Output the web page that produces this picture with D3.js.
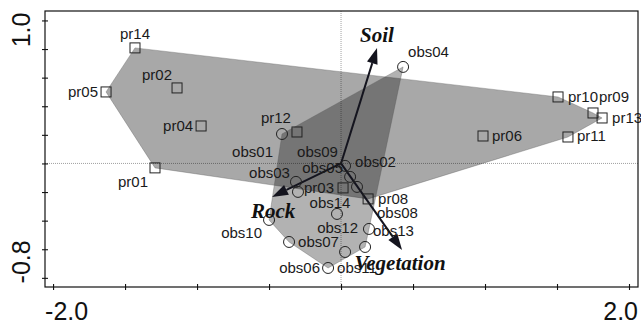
<!DOCTYPE html>
<html>
<head>
<meta charset="utf-8">
<script src="https://cdn.jsdelivr.net/npm/d3@7"></script>
<style>
  body { margin: 0; background: #fff; }
  svg { display: block; }
</style>
</head>
<body>
<svg id="chart" width="641" height="322"></svg>
<script>
// ordination scores
var prNames = ["pr01", "pr02", "pr03", "pr04", "pr05", "pr06", "pr08", "pr09", "pr10", "pr11", "pr12", "pr13", "pr14"];
var prX = [-1.292, -1.139, 0.014, -0.972, -1.632, 0.986, 0.188, 1.750, 1.507, 1.576, -0.306, 1.813, -1.431];
var prY = [-0.031, 0.528, -0.171, 0.262, 0.500, 0.192, -0.248, 0.353, 0.465, 0.185, 0.220, 0.318, 0.808];

var obsNames = ["obs01", "obs02", "obs03", "obs04", "obs05", "obs06", "obs07", "obs08", "obs09", "obs10", "obs11", "obs12", "obs13", "obs14"];
var obsX = [-0.410, 0.063, -0.313, 0.431, 0.028, -0.090, -0.361, 0.111, -0.299, -0.500, 0.028, 0.167, 0.194, -0.028];
var obsY = [0.206, -0.094, -0.129, 0.675, -0.017, -0.731, -0.549, -0.164, -0.199, -0.395, -0.619, -0.584, -0.458, -0.353];

// environmental vectors (biplot arrows)
var envNames = ["Soil", "Rock", "Vegetation"];
var envX = [0.250, -0.479, 0.424];
var envY = [0.808, -0.234, -0.605];

var xTicks = [-2, -1.5, -1, -0.5, 0, 0.5, 1, 1.5, 2];
var yTicks = [-0.8, -0.6, -0.4, -0.2, 0, 0.2, 0.4, 0.6, 0.8, 1.0];
var xTickLabels = ["-2.0", "2.0"];
var yTickLabels = ["-0.8", "1.0"];

// where each site label sits relative to its symbol: [anchor, dx, dy]
var labelPlace = {
    pr01: ["end", -7, 19], pr02: ["end", -5, -8], pr03: ["end", -9, 5], pr04: ["end", -8, 5],
    pr05: ["end", -8, 5], pr06: ["start", 9, 5], pr08: ["start", 10, 5], pr09: ["start", 6, -11],
    pr10: ["start", 10, 5], pr11: ["start", 9, 4], pr12: ["end", -6, -9], pr13: ["start", 10, 5],
    pr14: ["middle", 0, -9],
    obs01: ["end", -9, 23], obs02: ["start", 5, -10], obs03: ["end", -6, -4], obs04: ["start", 5, -10],
    obs05: ["end", -2, 7], obs06: ["end", -8, 5], obs07: ["start", 9, 5], obs08: ["start", 20, 31],
    obs09: ["end", 40, -35], obs10: ["end", -7, 18], obs11: ["start", -8, 21], obs12: ["end", -7, -14],
    obs13: ["start", 4, 7], obs14: ["middle", -7, -6]
};
var envPlace = {Soil: [0, -6], Rock: [1, 21], Vegetation: [-2, 20]};

var svg = d3.select("#chart"),
    pLeft = 45, pRight = 638, pTop = 11, pBottom = 287;

var x = d3.scaleLinear().domain([-2.056, 2.0625]).range([pLeft, pRight]),
    y = d3.scaleLinear().domain([-0.864, 1.066]).range([pBottom, pTop]);

var prPts = prNames.map(function(n, i) { return {name: n, px: x(prX[i]), py: y(prY[i])}; });
var obsPts = obsNames.map(function(n, i) { return {name: n, px: x(obsX[i]), py: y(obsY[i])}; });

svg.append("defs").append("clipPath")
    .attr("id", "clip")
    .append("rect")
    .attr("x", pLeft).attr("y", pTop)
    .attr("width", pRight - pLeft).attr("height", pBottom - pTop);

var plot = svg.append("g").attr("clip-path", "url(#clip)");

// zero lines
plot.append("line")
    .attr("x1", x(0)).attr("x2", x(0)).attr("y1", pTop).attr("y2", pBottom)
    .attr("stroke", "#8a8a8a").attr("stroke-width", 0.8).attr("stroke-dasharray", "1,1");
plot.append("line")
    .attr("x1", pLeft).attr("x2", pRight).attr("y1", y(0)).attr("y2", y(0))
    .attr("stroke", "#8a8a8a").attr("stroke-width", 0.8).attr("stroke-dasharray", "1,1");

// hulls
var hullPr = d3.polygonHull(prPts.map(function(d) { return [d.px, d.py]; }));
var hullObs = d3.polygonHull(obsPts.map(function(d) { return [d.px, d.py]; }));

plot.append("path")
    .attr("d", "M" + hullPr.join("L") + "Z")
    .attr("fill", "#000").attr("fill-opacity", 0.34)
    .attr("stroke", "#555").attr("stroke-opacity", 0.5).attr("stroke-width", 0.7);
plot.append("path")
    .attr("d", "M" + hullObs.join("L") + "Z")
    .attr("fill", "#000").attr("fill-opacity", 0.3)
    .attr("stroke", "#555").attr("stroke-opacity", 0.5).attr("stroke-width", 0.7);

// arrows
var ox = x(0), oy = y(0);
envNames.forEach(function(n, i) {
    var tx = x(envX[i]), ty = y(envY[i]);
    var ang = Math.atan2(ty - oy, tx - ox),
        len = 16, hw = 5.5;
    var bx = tx - len * Math.cos(ang), by = ty - len * Math.sin(ang);
    plot.append("line")
        .attr("x1", ox).attr("y1", oy).attr("x2", bx).attr("y2", by)
        .attr("stroke", "#14141e").attr("stroke-width", 2);
    plot.append("path")
        .attr("d", "M" + tx + "," + ty +
            "L" + (bx + hw * Math.sin(ang)) + "," + (by - hw * Math.cos(ang)) +
            "L" + (bx - hw * Math.sin(ang)) + "," + (by + hw * Math.cos(ang)) + "Z")
        .attr("fill", "#14141e");
});

// symbols
plot.selectAll(".pr").data(prPts).enter().append("rect")
    .attr("class", "pr")
    .attr("x", function(d) { return d.px - 5; })
    .attr("y", function(d) { return d.py - 5; })
    .attr("width", 10).attr("height", 10)
    .attr("fill", "none").attr("stroke", "#222").attr("stroke-width", 1);

plot.selectAll(".obs").data(obsPts).enter().append("circle")
    .attr("class", "obs")
    .attr("cx", function(d) { return d.px; })
    .attr("cy", function(d) { return d.py; })
    .attr("r", 5.5)
    .attr("fill", "none").attr("stroke", "#222").attr("stroke-width", 1);

// site labels
svg.selectAll(".lab").data(prPts.concat(obsPts)).enter().append("text")
    .attr("class", "lab")
    .attr("x", function(d) { return d.px + labelPlace[d.name][1]; })
    .attr("y", function(d) { return d.py + labelPlace[d.name][2]; })
    .attr("text-anchor", function(d) { return labelPlace[d.name][0]; })
    .attr("font-family", "Liberation Sans, Arial, sans-serif")
    .attr("font-size", 15)
    .attr("fill", "#1a1a1a")
    .text(function(d) { return d.name; });

// arrow labels
envNames.forEach(function(n, i) {
    svg.append("text")
        .attr("x", x(envX[i]) + envPlace[n][0])
        .attr("y", y(envY[i]) + envPlace[n][1])
        .attr("text-anchor", "middle")
        .attr("font-family", "Liberation Serif, Times New Roman, serif")
        .attr("font-style", "italic").attr("font-weight", "bold")
        .attr("font-size", 21)
        .attr("fill", "#111")
        .text(n);
});

// frame and ticks
svg.append("rect")
    .attr("x", pLeft).attr("y", pTop)
    .attr("width", pRight - pLeft).attr("height", pBottom - pTop)
    .attr("fill", "none").attr("stroke", "#111").attr("stroke-width", 1.2);

var yAxis = svg.append("g")
    .attr("transform", "translate(" + (pLeft + 3) + ",0)")
    .call(d3.axisLeft(y).tickValues(yTicks).tickSize(6).tickFormat(""));
var xAxis = svg.append("g")
    .attr("transform", "translate(0," + (pBottom - 3) + ")")
    .call(d3.axisBottom(x).tickValues(xTicks).tickSize(6).tickFormat(""));
[yAxis, xAxis].forEach(function(g) {
    g.select(".domain").remove();
    g.selectAll(".tick line").attr("stroke", "#111").attr("stroke-width", 1.1);
});

// tick labels (pulled inward as in the original)
var axisFont = "Liberation Sans, Arial, sans-serif";
svg.append("text")
    .attr("x", x(-2) - 8).attr("y", 320)
    .attr("text-anchor", "start")
    .attr("font-family", axisFont).attr("font-size", 25).attr("fill", "#111")
    .text(xTickLabels[0]);
svg.append("text")
    .attr("x", x(2) + 9).attr("y", 320)
    .attr("text-anchor", "end")
    .attr("font-family", axisFont).attr("font-size", 25).attr("fill", "#111")
    .text(xTickLabels[1]);
svg.append("text")
    .attr("transform", "translate(30," + (y(-0.8) - 16) + ") rotate(-90)")
    .attr("text-anchor", "middle")
    .attr("font-family", axisFont).attr("font-size", 25).attr("fill", "#111")
    .text(yTickLabels[0]);
svg.append("text")
    .attr("transform", "translate(30," + (y(1.0) + 9.5) + ") rotate(-90)")
    .attr("text-anchor", "middle")
    .attr("font-family", axisFont).attr("font-size", 25).attr("fill", "#111")
    .text(yTickLabels[1]);
</script>
</body>
</html>
